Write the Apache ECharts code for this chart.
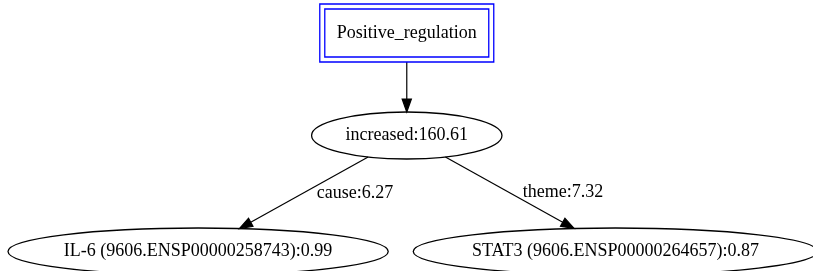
<!DOCTYPE html>
<html><head><meta charset="utf-8">
<script src="https://cdn.jsdelivr.net/npm/echarts@6/dist/echarts.min.js"></script>
<style>html,body{margin:0;padding:0;background:#fff}#c{width:813px;height:271px}</style>
</head><body><div id="c"></div>
<script>
// ---- data ----
const nodeLabels = ['Positive_regulation', 'increased:160.61', 'IL-6 (9606.ENSP00000258743):0.99', 'STAT3 (9606.ENSP00000264657):0.87'];
const nodeKinds = ['event', 'trigger', 'entity', 'entity'];
const nodeRanks = [0, 1, 2, 2];
const edgeFrom = [0, 1, 1];
const edgeTo = [1, 2, 3];
const edgeLabels = ['', 'cause:6.27', 'theme:7.32'];

// ---- layout (graphviz-like, computed from structure + text size) ----
const W = 813, H = 271;
const FONT_SIZE = 18;
const FONT_FAMILY = '"Liberation Serif", "Times New Roman", serif';
const FONT = FONT_SIZE + 'px ' + FONT_FAMILY;
const measureCtx = document.createElement('canvas').getContext('2d');
measureCtx.font = FONT;
const textW = nodeLabels.map(s => measureCtx.measureText(s).width);

const geom = nodeLabels.map((s, i) => nodeKinds[i] === 'event'
  ? { shape: 'box', hw: textW[i] / 2 + 17, hh: 29 }
  : { shape: 'ellipse', hw: (textW[i] / 2 + 12) * 1.3, hh: 23.5 });

const maxRank = Math.max(...nodeRanks);
const rankHH = [], rankY = [];
for (let r = 0; r <= maxRank; r++) rankHH[r] = Math.max(...geom.filter((g, i) => nodeRanks[i] === r).map(g => g.hh));
let rankTop = 4;
for (let r = 0; r <= maxRank; r++) {
  rankY[r] = rankTop + rankHH[r];
  const labelled = edgeFrom.some((f, k) => nodeRanks[f] === r && edgeLabels[k]);
  rankTop = rankY[r] + rankHH[r] + (labelled ? 69 : 50);
}
const nodeX = new Array(nodeLabels.length).fill(0);
const nodeY = nodeRanks.map(r => rankY[r]);
let cursor = 8;
nodeLabels.forEach((s, i) => { if (nodeRanks[i] === maxRank) { nodeX[i] = cursor + geom[i].hw; cursor += 2 * geom[i].hw + 25; } });
for (let r = maxRank - 1; r >= 0; r--) {
  nodeLabels.forEach((s, i) => {
    if (nodeRanks[i] !== r) return;
    const kids = edgeTo.filter((t, k) => edgeFrom[k] === i);
    nodeX[i] = kids.reduce((a, t) => a + nodeX[t], 0) / kids.length;
  });
}

function clipT(g, dx, dy) {
  if (g.shape === 'box') return Math.min(dx ? g.hw / Math.abs(dx) : Infinity, dy ? g.hh / Math.abs(dy) : Infinity);
  return 1 / Math.sqrt((dx / g.hw) ** 2 + (dy / g.hh) ** 2);
}

const nodeData = nodeLabels.map((s, i) => [nodeX[i], nodeY[i], i]);
const edgeData = edgeFrom.map((f, k) => [nodeX[f], nodeY[f], nodeX[edgeTo[k]], nodeY[edgeTo[k]], k]);

const chart = echarts.init(document.getElementById('c'), null, { renderer: 'canvas' });
chart.setOption({
  animation: false,
  backgroundColor: '#ffffff',
  grid: { left: 0, right: 0, top: 0, bottom: 0 },
  xAxis: { type: 'value', min: 0, max: W, show: false },
  yAxis: { type: 'value', min: 0, max: H, inverse: true, show: false },
  series: [
    {
      type: 'custom', silent: true, data: edgeData, clip: false,
      renderItem(params, api) {
        const k = api.value(4);
        const a = api.coord([api.value(0), api.value(1)]);
        const b = api.coord([api.value(2), api.value(3)]);
        const dx = b[0] - a[0], dy = b[1] - a[1];
        const t1 = clipT(geom[edgeFrom[k]], dx, dy), t2 = clipT(geom[edgeTo[k]], dx, dy);
        const s = [a[0] + dx * t1, a[1] + dy * t1];
        const e = [b[0] - dx * t2, b[1] - dy * t2];
        const len = Math.hypot(e[0] - s[0], e[1] - s[1]);
        const ux = (e[0] - s[0]) / len, uy = (e[1] - s[1]) / len;
        const AL = 13, AW = 4.6;
        const base = [e[0] - ux * AL, e[1] - uy * AL];
        const children = [
          { type: 'line', shape: { x1: s[0], y1: s[1], x2: base[0], y2: base[1] }, style: { stroke: '#000', lineWidth: 1.2 } },
          { type: 'polygon', shape: { points: [e, [base[0] - uy * AW, base[1] + ux * AW], [base[0] + uy * AW, base[1] - ux * AW]] }, style: { fill: '#000', stroke: '#000', lineWidth: 1.2 } }
        ];
        if (edgeLabels[k]) {
          const my = (s[1] + e[1]) / 2;
          const mx = s[0] + (e[0] - s[0]) * (my - s[1]) / (e[1] - s[1]);
          children.push({ type: 'text', style: { text: edgeLabels[k], x: mx + 13, y: my, align: 'left', verticalAlign: 'middle', font: FONT, fill: '#000' } });
        }
        return { type: 'group', children };
      }
    },
    {
      type: 'custom', silent: true, data: nodeData, clip: false,
      renderItem(params, api) {
        const i = api.value(2);
        const p = api.coord([api.value(0), api.value(1)]);
        const g = geom[i];
        const children = [];
        if (g.shape === 'box') {
          children.push({ type: 'rect', shape: { x: p[0] - g.hw, y: p[1] - g.hh, width: 2 * g.hw, height: 2 * g.hh }, style: { fill: '#fff', stroke: '#0000ff', lineWidth: 1.3 } });
          children.push({ type: 'rect', shape: { x: p[0] - g.hw + 5, y: p[1] - g.hh + 5, width: 2 * g.hw - 10, height: 2 * g.hh - 10 }, style: { fill: 'none', stroke: '#0000ff', lineWidth: 1.3 } });
        } else {
          children.push({ type: 'ellipse', shape: { cx: p[0], cy: p[1], rx: g.hw, ry: g.hh }, style: { fill: 'none', stroke: '#000', lineWidth: 1.3 } });
        }
        children.push({ type: 'text', style: { text: nodeLabels[i], x: p[0], y: p[1], align: 'center', verticalAlign: 'middle', font: FONT, fill: '#000' } });
        return { type: 'group', children };
      }
    }
  ]
});
</script></body></html>
